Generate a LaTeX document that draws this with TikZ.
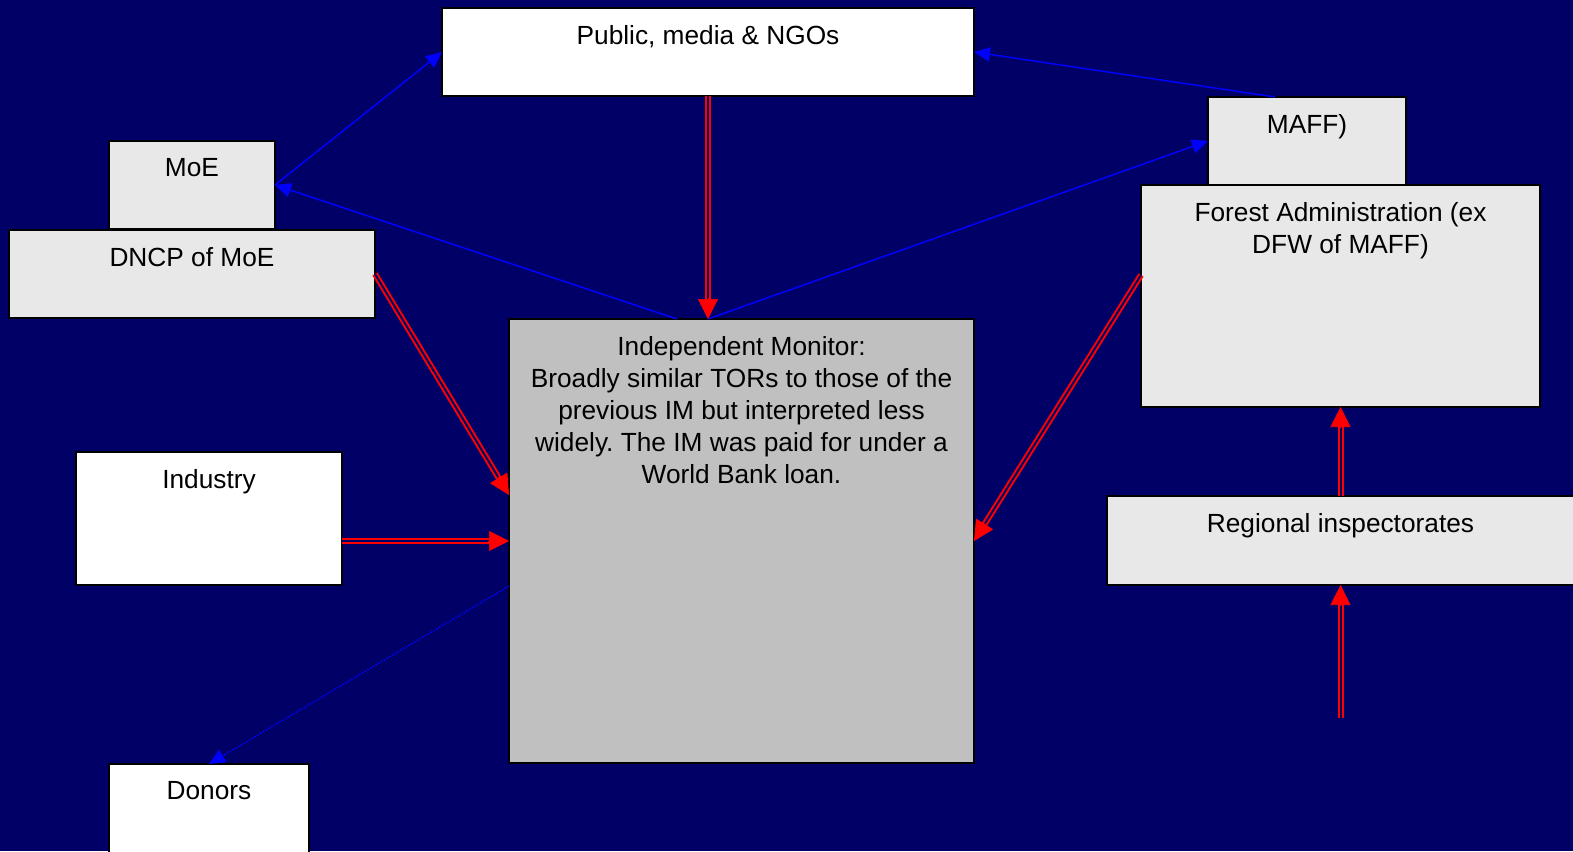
\documentclass[tikz,border=0pt]{standalone}
\usepackage{fontspec}
\setmainfont{Liberation Sans}
\usetikzlibrary{arrows.meta,calc}
\definecolor{bg}{HTML}{000066}
\definecolor{lgrey}{HTML}{E8E8E8}
\definecolor{mgrey}{HTML}{C0C0C0}
\definecolor{bblue}{HTML}{0000FF}
\definecolor{rred}{HTML}{FF0000}
\newcommand\dblarrow[2]{%
  \draw[reddbl] (#1) -- (#2);
  \draw[redtip] ($(#2)!16pt!(#1)$) -- (#2);}
\begin{document}
\begin{tikzpicture}[x=0.75pt,y=-0.75pt,
  box/.style 2 args={draw=black,line width=1.5pt,anchor=north west,inner sep=0pt,outer sep=0pt,
    minimum width=#1*0.75pt,minimum height=#2*0.75pt},
  lbl/.style={anchor=north,inner sep=0pt,yshift=-17*0.75pt,align=center,text=black,
    font=\fontsize{19.7pt}{24pt}\selectfont\frenchspacing},
  reddbl/.style={draw=rred,line width=1.5pt,double=bg,double distance=1.5pt,shorten >=12pt},
  redtip/.style={draw=rred,fill=rred,line width=0.5pt,-{Triangle[length=15pt,width=15pt]}},
  bluearr/.style={draw=bblue,line width=1.1pt,-{Triangle[length=12pt,width=10.5pt]}},
  bluedot/.style={bluearr,dash pattern=on 1.2pt off 1.2pt}]
\path[use as bounding box,fill=bg] (0,0) rectangle (1573,851);
\node[box={532}{88},fill=white,label={[lbl]north:{Public, media \& NGOs}}] (public) at (442,8) {};
\node[box={166}{88},fill=lgrey,label={[lbl]north:{MoE}}] (moe) at (109,141) {};
\node[box={366}{88},fill=lgrey,label={[lbl]north:{DNCP of MoE}}] (dncp) at (9,230) {};
\node[box={399}{222},fill=lgrey,label={[lbl]north:{Forest Administration (ex\\DFW of MAFF)}}] (forest) at (1141,185) {};
\node[box={198}{88},fill=lgrey,label={[lbl]north:{MAFF)}}] (maff) at (1208,97) {};
\node[box={465}{444},fill=mgrey,label={[lbl]north:{Independent Monitor:\\Broadly similar TORs to those of the\\previous IM but interpreted less\\widely. The IM was paid for under a\\World Bank loan.}}] (im) at (509,319) {};
\node[box={266}{133},fill=white,label={[lbl]north:{Industry}}] (industry) at (76,452) {};
\node[box={467}{89},fill=lgrey,label={[lbl]north:{Regional inspectorates}}] (regional) at (1107,496) {};
\node[box={200}{100},fill=white,label={[lbl]north:{Donors}}] (donors) at (109,764) {};
\coordinate (imA) at ($(im.north)+(-64.5,0)$);
\coordinate (imB) at ($(im.north)+(-33.5,0)$);
\coordinate (maffT) at ($(maff.north)+(-32,0)$);
\coordinate (imL1) at ($(im.west)+(0,-46)$);
\coordinate (imL2) at ($(im.west)+(0,45)$);
\coordinate (indR) at ($(industry.east)+(0,22.5)$);
\coordinate (forL) at ($(forest.west)+(0,-21)$);
\coordinate (regIn) at ($(regional.south)+(0,133)$);
% blue connectors
\draw[bluearr] (imA) -- (moe.east);
\draw[bluearr] (moe.east) -- (public.west);
\draw[bluearr] (imB) -- (maff.west);
\draw[bluearr] (maffT) -- (public.east);
\draw[bluedot] (imL2) -- (donors.north);
% red double connectors
\dblarrow{public.south}{imB}
\dblarrow{dncp.east}{imL1}
\dblarrow{indR}{im.west}
\dblarrow{forL}{im.east}
\dblarrow{regional.north}{forest.south}
\dblarrow{regIn}{regional.south}
\end{tikzpicture}
\end{document}
